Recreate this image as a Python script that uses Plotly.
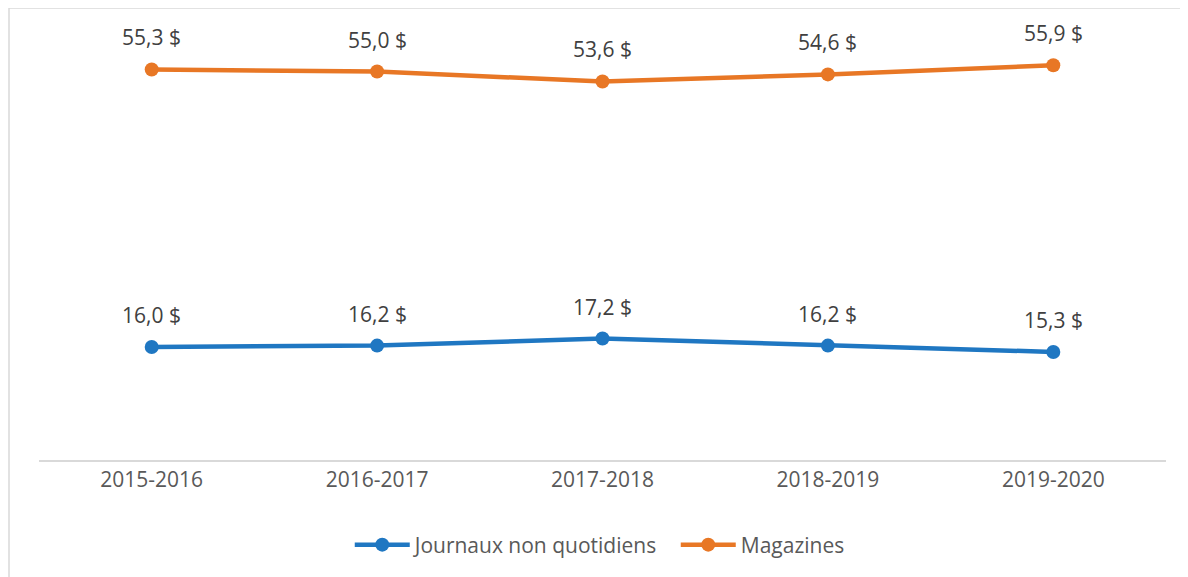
import plotly.graph_objects as go

categories = ["2015-2016", "2016-2017", "2017-2018", "2018-2019", "2019-2020"]
journaux = [16.0, 16.2, 17.2, 16.2, 15.3]
magazines = [55.3, 55.0, 53.6, 54.6, 55.9]
series_names = ["Journaux non quotidiens", "Magazines"]
colors = ["#1F77C2", "#E87725"]

FONT = "Open Sans"
# page body has an 8px margin; figure sized to fit the window
W, H = 1180, 569
L, R, T, B = 31, 22, 0, 117
PW, PH = W - L - R, H - T - B

def fmt(v):
    return f"{v:.1f}".replace(".", ",") + " $"

fig = go.Figure()
for name, vals, col in zip(series_names, [journaux, magazines], colors):
    fig.add_trace(go.Scatter(
        x=categories, y=vals, name=name, mode="lines+markers",
        line=dict(color=col, width=4.5),
        marker=dict(color=col, size=14),
        cliponaxis=False,
    ))

annotations = []
for vals in [journaux, magazines]:
    for c, v in zip(categories, vals):
        annotations.append(dict(
            x=c, y=v, xref="x", yref="y", text=fmt(v), showarrow=False,
            yshift=32, yanchor="middle",
            font=dict(family=FONT, size=21, color="#404040"),
        ))

bx = (1 - L) / PW
ty = 1.0
shapes = [
    dict(type="line", xref="paper", yref="paper",
         x0=bx, x1=(W - L) / PW, y0=ty, y1=ty,
         line=dict(color="#D9D9D9", width=1.5)),
    dict(type="line", xref="paper", yref="paper",
         x0=bx, x1=bx, y0=ty, y1=-B / PH,
         line=dict(color="#D9D9D9", width=1.5)),
]

fig.update_layout(
    width=W, height=H,
    margin=dict(l=L, r=R, t=T, b=B),
    paper_bgcolor="white", plot_bgcolor="white",
    font=dict(family=FONT, color="#595959"),
    xaxis=dict(showgrid=False, showline=True, linecolor="#D9D9D9", linewidth=1.5,
               ticks="", tickfont=dict(family=FONT, size=21, color="#595959"),
               range=[-0.5, 4.5], fixedrange=True),
    yaxis=dict(visible=False, range=[0, 64], fixedrange=True),
    showlegend=True,
    legend=dict(orientation="h", x=0.565, xanchor="center", y=-(545 - 460) / PH, yanchor="middle",
                font=dict(family=FONT, size=21, color="#595959"),
                itemwidth=55, tracegroupgap=0, entrywidth=256),
    annotations=annotations,
    shapes=shapes,
)

fig.write_html("out.html")
